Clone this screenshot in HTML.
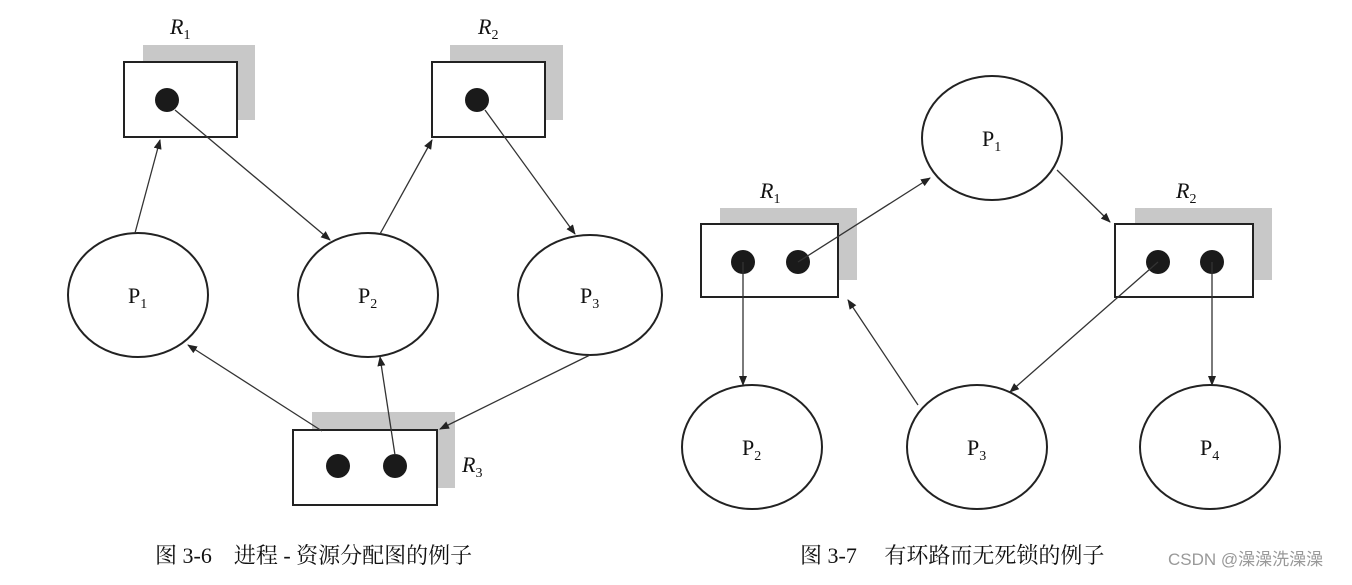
<!DOCTYPE html>
<html><head><meta charset="utf-8"><style>
body{margin:0;background:#fff;width:1352px;height:580px;overflow:hidden}
</style></head><body>
<svg width="1352" height="580" xmlns="http://www.w3.org/2000/svg" font-family="Liberation Serif, 'Noto Serif CJK SC', serif">
<defs><marker id="a" markerWidth="10" markerHeight="8" refX="9" refY="4" orient="auto" markerUnits="userSpaceOnUse"><path d="M0,0 L10,4 L0,8 z" fill="#222"/></marker></defs>
<g fill="#c8c8c8">
<rect x="143" y="45" width="112" height="75"/><rect x="450" y="45" width="113" height="75"/>
<rect x="312" y="412" width="143" height="76"/>
<rect x="720" y="208" width="137" height="72"/><rect x="1135" y="208" width="137" height="72"/>
</g>
<g fill="#fff" stroke="#222" stroke-width="2">
<rect x="124" y="62" width="113" height="75"/><rect x="432" y="62" width="113" height="75"/>
<rect x="293" y="430" width="144" height="75"/>
<rect x="701" y="224" width="137" height="73"/><rect x="1115" y="224" width="138" height="73"/>
<ellipse cx="138" cy="295" rx="70" ry="62"/><ellipse cx="368" cy="295" rx="70" ry="62"/><ellipse cx="590" cy="295" rx="72" ry="60"/>
<ellipse cx="992" cy="138" rx="70" ry="62"/>
<ellipse cx="752" cy="447" rx="70" ry="62"/><ellipse cx="977" cy="447" rx="70" ry="62"/><ellipse cx="1210" cy="447" rx="70" ry="62"/>
</g>
<g fill="#1a1a1a">
<circle cx="167" cy="100" r="12"/><circle cx="477" cy="100" r="12"/>
<circle cx="338" cy="466" r="12"/><circle cx="395" cy="466" r="12"/>
<circle cx="743" cy="262" r="12"/><circle cx="798" cy="262" r="12"/>
<circle cx="1158" cy="262" r="12"/><circle cx="1212" cy="262" r="12"/>
</g>
<g stroke="#333" stroke-width="1.3" marker-end="url(#a)">
<line x1="135" y1="233" x2="160" y2="140"/>
<line x1="175" y1="110" x2="330" y2="240"/>
<line x1="380" y1="234" x2="432" y2="140"/>
<line x1="485" y1="110" x2="575" y2="234"/>
<line x1="395" y1="455" x2="380" y2="357"/>
<line x1="322" y1="431" x2="188" y2="345"/>
<line x1="590" y1="355" x2="440" y2="429"/>
<line x1="798" y1="262" x2="930" y2="178"/>
<line x1="1057" y1="170" x2="1110" y2="222"/>
<line x1="1158" y1="262" x2="1010" y2="392"/>
<line x1="1212" y1="262" x2="1212" y2="385"/>
<line x1="743" y1="262" x2="743" y2="385"/>
<line x1="918" y1="405" x2="848" y2="300"/>
</g>
<g font-size="22" fill="#111">
<text x="128" y="303">P<tspan font-size="14" dy="5">1</tspan></text>
<text x="358" y="303">P<tspan font-size="14" dy="5">2</tspan></text>
<text x="580" y="303">P<tspan font-size="14" dy="5">3</tspan></text>
<text x="982" y="146">P<tspan font-size="14" dy="5">1</tspan></text>
<text x="742" y="455">P<tspan font-size="14" dy="5">2</tspan></text>
<text x="967" y="455">P<tspan font-size="14" dy="5">3</tspan></text>
<text x="1200" y="455">P<tspan font-size="14" dy="5">4</tspan></text>
<g font-style="italic">
<text x="170" y="34">R<tspan font-size="14" dy="5" font-style="normal">1</tspan></text>
<text x="478" y="34">R<tspan font-size="14" dy="5" font-style="normal">2</tspan></text>
<text x="462" y="472">R<tspan font-size="14" dy="5" font-style="normal">3</tspan></text>
<text x="760" y="198">R<tspan font-size="14" dy="5" font-style="normal">1</tspan></text>
<text x="1176" y="198">R<tspan font-size="14" dy="5" font-style="normal">2</tspan></text>
</g>
<text x="155" y="563">图 3-6　进程 - 资源分配图的例子</text>
<text x="800" y="563">图 3-7　 有环路而无死锁的例子</text>
</g>
<text x="1168" y="565" font-size="17" fill="#999" font-family="Liberation Sans, 'Noto Sans CJK SC', sans-serif">CSDN @澡澡洗澡澡</text>
</svg>
</body></html>
